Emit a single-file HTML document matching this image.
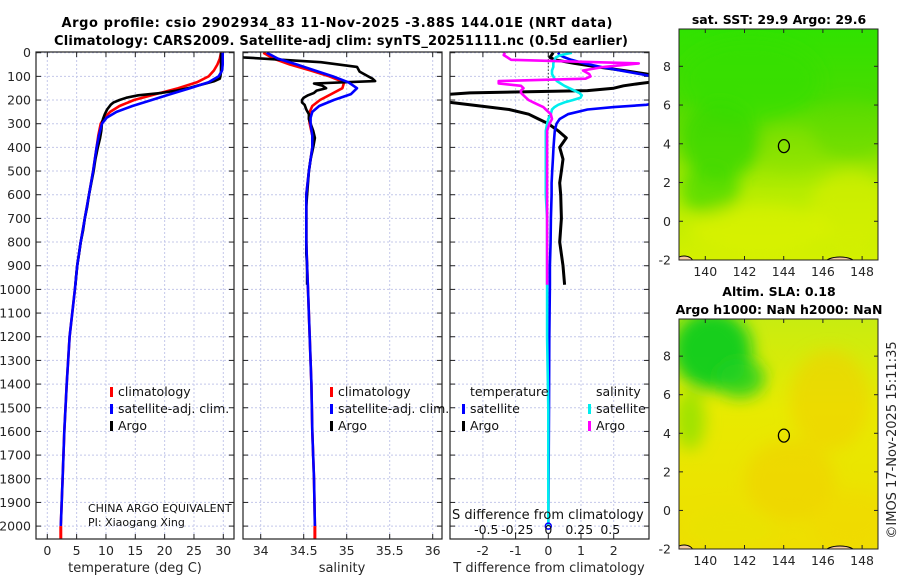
<!DOCTYPE html>
<html><head><meta charset="utf-8"><style>
html,body{margin:0;padding:0;background:#fff;width:900px;height:580px;overflow:hidden}
svg{display:block;font-family:"DejaVu Sans","Liberation Sans",sans-serif}
</style></head><body>
<svg id="fig" width="900" height="580" viewBox="0 0 900 580">
<defs>
<linearGradient id="sstg" x1="0" y1="0" x2="0" y2="1">
<stop offset="0" stop-color="#30e200"/><stop offset="0.3" stop-color="#48dc00"/><stop offset="0.5" stop-color="#80e000"/><stop offset="0.7" stop-color="#b4ec00"/><stop offset="1" stop-color="#d4f000"/></linearGradient>
<linearGradient id="slag" x1="0" y1="0" x2="0" y2="1">
<stop offset="0" stop-color="#c8ec10"/><stop offset="0.4" stop-color="#e8ea00"/><stop offset="1" stop-color="#eede00"/></linearGradient>
<filter id="bl"><feGaussianBlur stdDeviation="8"/></filter>
<clipPath id="c1"><rect x="36" y="52" width="198" height="487"/></clipPath>
<clipPath id="c2"><rect x="243" y="52" width="199" height="487"/></clipPath>
<clipPath id="c3"><rect x="450" y="52" width="199" height="487"/></clipPath>
<clipPath id="m1"><rect x="679" y="29" width="199" height="231"/></clipPath>
<clipPath id="m2"><rect x="679" y="319" width="199" height="230"/></clipPath>
</defs>
<g id="titles" font-weight="bold" font-size="13" fill="#000">
<text x="337" y="27" text-anchor="middle" textLength="551">Argo profile: csio 2902934_83 11-Nov-2025 -3.88S 144.01E (NRT data)</text>
<text x="341" y="45" text-anchor="middle" textLength="574">Climatology: CARS2009. Satellite-adj clim: synTS_20251111.nc (0.5d earlier)</text>
</g>
<g id="maps"></g>
<g id="panels"></g>
<text transform="translate(896,440) rotate(-90)" text-anchor="middle" font-size="13" fill="#262626">©IMOS 17-Nov-2025 15:11:35</text>
</svg>
<script>
// ---- data ----
const yTicks = [0,100,200,300,400,500,600,700,800,900,1000,1100,1200,1300,1400,1500,1600,1700,1800,1900,2000];
const tTicks = [0,5,10,15,20,25,30];
const sTicks = [34,34.5,35,35.5,36];
const sTickLabels = ["34","34.5","35","35.5","36"];
const dTTicks = [-2,-1,0,1,2];
const dSTicks = [-0.5,-0.25,0,0.25,0.5];
const dSTickLabels = ["-0.5","-0.25","0","0.25","0.5"];
const climDepth = [0,25,50,75,100,125,150,175,200,225,250,275,300,350,400,500,600,700,800,900,1000,1200,1400,1600,1800,2000];
const climT = [29.6,29.4,29.0,28.4,27.5,25.5,22.3,18.5,14.8,12.3,10.7,9.7,9.1,8.7,8.4,7.8,7.1,6.4,5.7,5.1,4.7,3.8,3.3,2.9,2.6,2.3];
const satT = [29.9,29.9,29.9,29.8,29.2,27.5,24.3,21.0,17.8,14.5,11.8,10.1,9.3,8.8,8.4,7.8,7.1,6.4,5.7,5.1,4.7,3.8,3.3,2.9,2.6,2.3];
const climS = [34.03,34.15,34.34,34.58,34.8,34.97,34.95,34.82,34.69,34.6,34.57,34.56,34.57,34.6,34.6,34.56,34.53,34.53,34.53,34.54,34.55,34.57,34.59,34.6,34.62,34.63];
const satS = [34.07,34.2,34.42,34.63,34.84,35.02,35.12,35.05,34.85,34.68,34.6,34.58,34.58,34.6,34.6,34.56,34.53,34.53,34.53,34.54,34.55,34.57,34.59,34.6,34.62,34.63];
const argoDepth = [0,20,40,60,80,100,110,120,130,140,150,160,170,180,190,200,210,220,240,260,280,300,330,360,400,450,500,550,600,650,700,750,800,850,900,950,980];
const argoT = [29.6,29.6,29.6,29.6,29.6,29.5,29.4,28.5,27,25.5,24,22,19.5,15.5,13.5,12.3,11.3,10.8,10.2,9.8,9.5,9.3,9.2,9.0,8.6,8.2,7.9,7.5,7.1,6.8,6.4,6.1,5.7,5.4,5.1,4.9,4.8];
const argoS = [33.7,33.8,34.7,35.12,35.15,35.25,35.3,35.33,34.62,34.72,34.76,34.65,34.62,34.55,34.5,34.48,34.48,34.51,34.53,34.56,34.56,34.58,34.61,34.63,34.61,34.58,34.56,34.55,34.54,34.53,34.53,34.53,34.53,34.53,34.54,34.54,34.54];
const diffDepth = [0,10,20,30,45,60,75,90,100,110,120,130,140,150,160,170,180,190,200,210,220,230,240,260,280,300,330,360,400,450,500,550,600,700,800,900,980,1200,1500,2000];
const satDT = [0.3,0.35,0.5,0.7,1.1,1.6,2.2,2.8,3.2,3.6,4,4.5,5,5,5,5,4.8,4.3,3.8,3.4,3.0,2.0,1.2,0.6,0.35,0.25,0.2,0.18,0.16,0.14,0.12,0.1,0.1,0.08,0.07,0.05,0.05,0.03,0.02,0.0];
const satDS = [0.19,0.1,0.06,0.05,0.04,0.04,0.03,0.03,0.04,0.05,0.07,0.1,0.13,0.17,0.21,0.25,0.27,0.26,0.2,0.13,0.08,0.05,0.03,0.02,0.0,-0.01,-0.02,-0.02,-0.02,-0.02,-0.02,-0.02,-0.02,-0.01,-0.01,-0.01,-0.01,-0.01,0,0];
const argoDiffDepth = [0,10,20,30,45,60,75,90,100,110,120,130,140,150,160,170,180,190,200,210,220,230,240,260,280,300,330,360,400,450,500,550,600,700,800,900,980];
const argoDT = [0.15,0.1,0.05,0.2,0.8,1.5,2.3,3.0,3.4,3.5,3.4,2.8,2.3,2,1.2,-2.4,-3.5,-3.8,-3.6,-3.0,-2.4,-1.8,-1.2,-0.6,-0.3,0,0.3,0.55,0.35,0.45,0.4,0.35,0.38,0.4,0.35,0.45,0.5];
const argoDS = [-0.35,-0.36,-0.33,-0.3,0.73,0.45,0.28,0.33,0.34,0.3,-0.4,-0.4,-0.22,-0.2,-0.22,-0.22,-0.2,-0.18,-0.16,-0.12,-0.08,-0.04,-0.02,0.02,0.03,0.01,-0.01,-0.01,-0.01,-0.01,-0.01,-0.01,-0.01,-0.01,-0.01,-0.01,-0.01];
const lonTicks = [140,142,144,146,148];
const latTicks = [-2,0,2,4,6,8];
const floatLon = 144.01, floatLat = 3.88;

// ---- helpers ----
const NS = "http://www.w3.org/2000/svg";
function mk(tag, attrs, parent){const e=document.createElementNS(NS,tag);for(const k in attrs)e.setAttribute(k,attrs[k]);parent.appendChild(e);return e;}
const yD = d => 52.7 + d*0.2367;
const xT = t => 47.3 + t*5.867;
const xS = s => 260.7 + (s-34)*86;
const xDT = v => 548.3 + v*32.7;
const xDS = v => 548.3 + v*124;
const panels = document.getElementById('panels');
const GRID = "#c4c8ea";

function frame(x0,x1,vx,clip,labelsY,name){
  const g = mk('g',{},panels);
  
  
  mk('rect',{x:x0,y:52,width:x1-x0,height:487,fill:'#fff'},g);
  vx.forEach(x=>{mk('line',{x1:x,x2:x,y1:52,y2:539,stroke:GRID,'stroke-dasharray':'2,2'},g);});
  yTicks.forEach(d=>{const y=yD(d);mk('line',{x1:x0,x2:x1,y1:y,y2:y,stroke:GRID,'stroke-dasharray':'2,2'},g);
    mk('line',{x1:x0,x2:x0+5,y1:y,y2:y,stroke:'#222'},g);mk('line',{x1:x1-5,x2:x1,y1:y,y2:y,stroke:'#222'},g);
    if(labelsY){const t=mk('text',{x:31,y:y+4.5,'text-anchor':'end','font-size':12.5,fill:'#262626'},g);t.textContent=d;
      
      }
  });
  vx.forEach(x=>{mk('line',{x1:x,x2:x,y1:52,y2:57,stroke:'#222'},g);mk('line',{x1:x,x2:x,y1:534,y2:539,stroke:'#222'},g);});
  return g;
}
function line(g,xs,ds,fx,color,name,clip,w){
  const pts = xs.map((v,i)=>fx(v).toFixed(1)+','+yD(ds[i]).toFixed(1)).join(' ');
  const p = mk('polyline',{points:pts,fill:'none',stroke:color,'stroke-width':w||2.6,'stroke-linejoin':'round','clip-path':'url(#'+clip+')'},g);
  
  
}
function border(g,x0,x1){mk('rect',{x:x0,y:52,width:x1-x0,height:487,fill:'none',stroke:'#222','stroke-width':1.2},g);}
function txt(g,x,y,s,size,anchor,name,fill){const t=mk('text',{x:x,y:y,'font-size':size,'text-anchor':anchor||'start',fill:fill||'#262626'},g);t.textContent=s;
  
  return t;}
function legend(g,x,y,color,label,name){mk('rect',{x:x,y:y-9,width:3,height:10,fill:color},g);txt(g,x+8,y,label,12.5,'start',name,'#111');}

// Panel 1 temperature
let g1 = frame(36,234,tTicks.map(xT),'c1',true,'temperature-panel');
line(g1,climT,climDepth,xT,'#ff0000','temperature-climatology-line','c1');
line(g1,argoT,argoDepth,xT,'#000','temperature-argo-line','c1');
line(g1,satT,climDepth,xT,'#0000ff','temperature-satellite-line','c1');
mk('line',{x1:xT(2.3),x2:xT(2.3),y1:yD(2000),y2:539,stroke:'#f00','stroke-width':3},g1);
border(g1,36,234);
tTicks.forEach(t=>txt(g1,xT(t),555,String(t),12.5,'middle','temperature-tick-label'));
txt(g1,135,572,'temperature (deg C)',13,'middle','x-axis-title-temperature');
legend(g1,110,396,'#f00','climatology','legend-climatology');
legend(g1,110,413,'#00f','satellite-adj. clim.','legend-satellite-adj');
legend(g1,110,430,'#000','Argo','legend-argo');
txt(g1,88,512,'CHINA ARGO EQUIVALENT',11,'start','pi-institution','#111');
txt(g1,88,526,'PI: Xiaogang Xing',11,'start','pi-name','#111');

// Panel 2 salinity
let g2 = frame(243,442,sTicks.map(xS),'c2',false,'salinity-panel');
line(g2,climS,climDepth,xS,'#ff0000','salinity-climatology-line','c2');
line(g2,argoS,argoDepth,xS,'#000','salinity-argo-line','c2');
line(g2,satS,climDepth,xS,'#0000ff','salinity-satellite-line','c2');
mk('line',{x1:xS(34.63),x2:xS(34.63),y1:yD(2000),y2:539,stroke:'#f00','stroke-width':3},g2);
border(g2,243,442);
sTicks.forEach((s,i)=>txt(g2,xS(s),555,sTickLabels[i],12.5,'middle','salinity-tick-label'));
txt(g2,342,572,'salinity',13,'middle','x-axis-title-salinity');
legend(g2,330,396,'#f00','climatology','legend-climatology');
legend(g2,330,413,'#00f','satellite-adj. clim.','legend-satellite-adj');
legend(g2,330,430,'#000','Argo','legend-argo');

// Panel 3 differences
let g3 = frame(450,649,dTTicks.map(xDT),'c3',false,'difference-panel');
mk('line',{x1:xDT(0),x2:xDT(0),y1:52,y2:yD(290),stroke:'#333','stroke-dasharray':'1.5,2','stroke-width':1},g3);
line(g3,argoDT,argoDiffDepth,xDT,'#000','argo-temperature-difference-line','c3',3);
line(g3,satDT,diffDepth,xDT,'#0000ff','satellite-temperature-difference-line','c3');
line(g3,satDS,diffDepth,xDS,'#00eeee','satellite-salinity-difference-line','c3');
line(g3,argoDS,argoDiffDepth,xDS,'#ff00ff','argo-salinity-difference-line','c3');
mk('circle',{cx:xDT(0),cy:yD(2000),r:3,fill:'none',stroke:'#00f','stroke-width':1.5},g3);
border(g3,450,649);
dTTicks.forEach(t=>txt(g3,xDT(t),555,String(t),12.5,'middle','temperature-difference-tick-label'));
txt(g3,549,572,'T difference from climatology',13,'middle','x-axis-title-temperature-difference');
txt(g3,452,519,'S difference from climatology',13,'start','s-difference-axis-title','#111');
dSTicks.forEach((t,i)=>txt(g3,xDS(t),534,dSTickLabels[i],12.5,'middle','salinity-difference-tick-label','#111'));
txt(g3,470,396,'temperature',12.5,'start','legend-temperature-header','#111');
txt(g3,596,396,'salinity',12.5,'start','legend-salinity-header','#111');
legend(g3,462,413,'#00f','satellite','legend-temperature-satellite');
legend(g3,462,430,'#000','Argo','legend-temperature-argo');
legend(g3,588,413,'#00eeee','satellite','legend-salinity-satellite');
legend(g3,588,430,'#ff00ff','Argo','legend-salinity-argo');

// ---- maps ----
const maps = document.getElementById('maps');
function drawMap(y0,y1,clip,fill,blobs,title,name){
  const g = mk('g',{},maps);
  
  
  const xL = l => 705.3 + (l-140)*19.6;
  const yL = l => y1 - (l+2)*((y1-y0-0.5)/11.9);
  mk('rect',{x:679,y:y0,width:199,height:y1-y0,fill:fill},g);
  const bg = mk('g',{'clip-path':'url(#'+clip+')'},g);
  const bb = mk('g',{filter:'url(#bl)'},bg);
  blobs.forEach(b=>mk('ellipse',{cx:b[0],cy:b[1],rx:b[2],ry:b[3],fill:b[4],opacity:b[5]},bb));
  mk('ellipse',{cx:684,cy:y1+2,rx:9,ry:6,fill:'#f5c9a0',stroke:'#000'},bg);
  mk('ellipse',{cx:840,cy:y1+3,rx:15,ry:6,fill:'#f5c9a0',stroke:'#000'},bg);
  const c = mk('ellipse',{cx:xL(floatLon),cy:yL(floatLat),rx:5.5,ry:6.5,fill:'none',stroke:'#000','stroke-width':1.3},g);
  
  
  mk('rect',{x:679,y:y0,width:199,height:y1-y0,fill:'none',stroke:'#222'},g);
  lonTicks.forEach(l=>{const x=xL(l);mk('line',{x1:x,x2:x,y1:y1-4,y2:y1,stroke:'#222'},g);mk('line',{x1:x,x2:x,y1:y0,y2:y0+4,stroke:'#222'},g);
    txt(g,x,y1+16,String(l),12.5,'middle','longitude-tick-label');});
  latTicks.forEach(l=>{const y=yL(l);mk('line',{x1:679,x2:683,y1:y,y2:y,stroke:'#222'},g);mk('line',{x1:874,x2:878,y1:y,y2:y,stroke:'#222'},g);
    txt(g,671,y+4.5,String(l),12.5,'end','latitude-tick-label');});
  title.forEach(t=>{const e=txt(g,779,t[1],t[0],12.5,'middle','map-title','#000');e.setAttribute('font-weight','bold');});
}
drawMap(29,260,'m1','url(#sstg)',[
  [720,140,40,40,'#38d800',0.8],[710,190,30,25,'#40d800',0.7],[750,80,70,40,'#30e000',0.6],
  [850,130,40,30,'#60dc00',0.5],[850,210,40,40,'#d8f000',0.6],[760,230,70,25,'#dcf200',0.7],[790,150,30,20,'#8ae400',0.5]],
  [['sat. SST: 29.9 Argo: 29.6',24]],'sst-map');
drawMap(319,549,'m2','url(#slag)',[
  [712,350,40,40,'#10cc20',0.95],[740,378,25,20,'#20d020',0.85],[690,420,15,30,'#80e000',0.7],
  [830,400,40,50,'#f0d000',0.6],[790,480,45,40,'#f0d000',0.6],[730,530,45,20,'#e8e400',0.6],[850,520,40,30,'#f2d800',0.5]],
  [['Altim. SLA: 0.18',296],['Argo h1000: NaN h2000: NaN',314]],'sla-map');
</script>
</body></html>
